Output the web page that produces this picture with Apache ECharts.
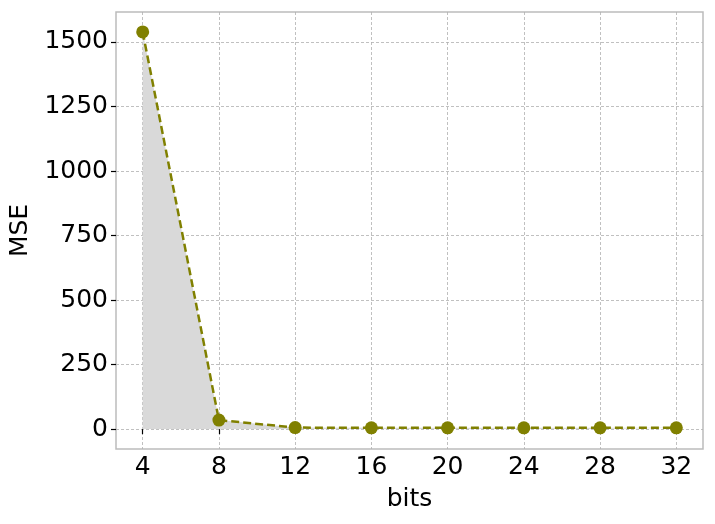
<!DOCTYPE html>
<html>
<head>
<meta charset="utf-8">
<script src="https://cdn.jsdelivr.net/npm/echarts@6/dist/echarts.min.js"></script>
<style>html,body{margin:0;padding:0;background:#fff}#c{width:715px;height:524px}</style>
</head>
<body>
<div id="c"></div>
<script>
const bits = [4, 8, 12, 16, 20, 24, 28, 32];
const mse = [1539, 35, 6, 5, 5, 5, 5, 5];
const xTicks = [4, 8, 12, 16, 20, 24, 28, 32];
const yTicks = [0, 250, 500, 750, 1000, 1250, 1500];

const FONT = 'DejaVu Sans';
const chart = echarts.init(document.getElementById('c'), null, {renderer: 'canvas'});
const gridLine = {show: true, lineStyle: {color: '#b0b0b0', width: 0.8, type: [3, 2]}};
chart.setOption({
  animation: false,
  backgroundColor: '#ffffff',
  grid: {left: 116, right: 12, top: 12, bottom: 75, containLabel: false, outerBoundsMode: 'none', show: true, borderColor: '#bcbcbc', borderWidth: 1.5, backgroundColor: 'transparent'},
  xAxis: {
    type: 'value', min: 2.6, max: 33.4,
    name: 'bits', nameLocation: 'middle', nameGap: 38,
    nameTextStyle: {fontFamily: FONT, fontSize: 25, color: '#000'},
    axisLine: {show: false},
    axisTick: {show: true, length: 5, customValues: xTicks, lineStyle: {color: '#000', width: 1.2}},
    axisLabel: {customValues: xTicks, fontFamily: FONT, fontSize: 25, color: '#000', margin: 6, formatter: v => String(v)},
    splitLine: gridLine
  },
  yAxis: {
    type: 'value', min: -77, max: 1616,
    name: 'MSE', nameLocation: 'middle', nameGap: 80, nameRotate: 90,
    nameTextStyle: {fontFamily: FONT, fontSize: 25, color: '#000'},
    axisLine: {show: false},
    axisTick: {show: true, length: 5, customValues: yTicks, lineStyle: {color: '#000', width: 1.2}},
    axisLabel: {customValues: yTicks, fontFamily: FONT, fontSize: 25, color: '#000', margin: 8, formatter: v => String(v)},
    splitLine: gridLine
  },
  series: [{
    type: 'line',
    data: bits.map((b, i) => [b, mse[i]]),
    symbol: 'circle', symbolSize: 13,
    itemStyle: {color: '#808000'},
    lineStyle: {color: '#808000', width: 2.5, type: [8, 4]},
    areaStyle: {color: '#d9d9d9', opacity: 1, origin: 0}
  }]
});
</script>
</body>
</html>
